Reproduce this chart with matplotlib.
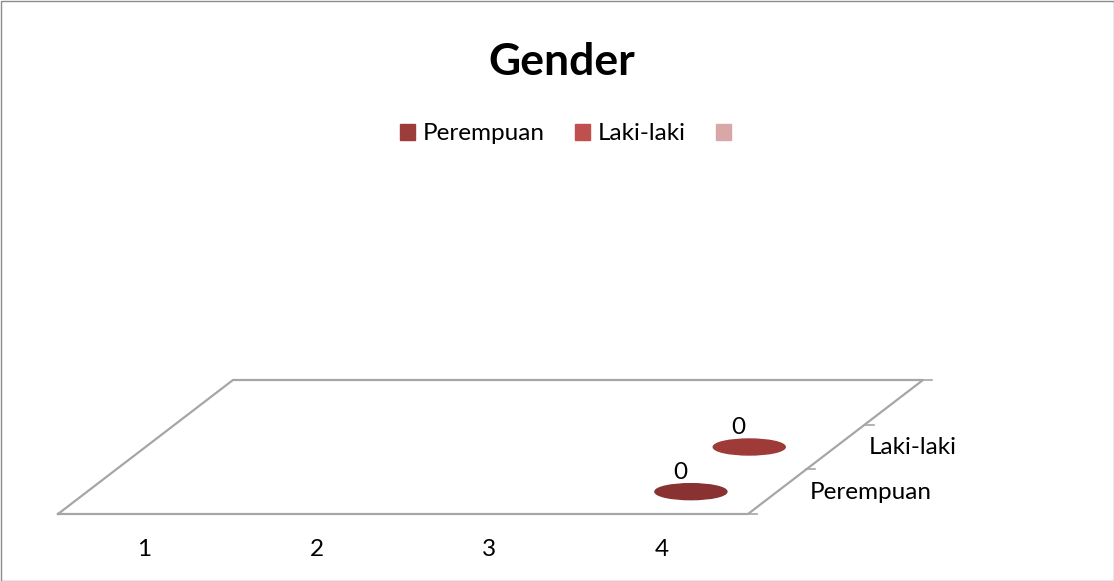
import matplotlib.pyplot as plt
import numpy as np
from matplotlib.patches import Ellipse, Patch
from matplotlib.transforms import Affine2D

plt.rcParams['font.family'] = ['Lato', 'DejaVu Sans']

# chart data
categories = ['1', '2', '3', '4']
series = ['Perempuan', 'Laki-laki', '']
perempuan = [np.nan, np.nan, np.nan, 0]
laki_laki = [np.nan, np.nan, np.nan, 0]
values = [perempuan, laki_laki]
colors = ['#9C3C3B', '#C0504D', '#D9A7A6']
bar_colors = ['#8A3232', '#9E3A38']

fig = plt.figure(figsize=(11.14, 5.81), dpi=100)
ax = fig.add_axes([0, 0, 1, 1])
ax.set_xlim(0, 1114)
ax.set_ylim(581, 0)
ax.axis('off')

# oblique projection of the floor: (category, depth slot) -> pixel coords
x0, y0 = 58, 514
cat_w = 172.5
dep_dx, dep_dy = 175 / 3, -134 / 3
proj = Affine2D(np.array([[cat_w, dep_dx, x0],
                          [0, dep_dy, y0],
                          [0, 0, 1]]))
tr = proj + ax.transData
ncat = len(categories)
ndep = len(series)
fs = 17.5

gray = '#A6A6A6'
ax.plot([0, ncat, ncat, 0, 0], [0, 0, ndep, ndep, 0], color=gray, lw=1.6,
        transform=tr, solid_joinstyle='miter')
# depth ticks on right edge
for d in range(ndep + 1):
    px, py = proj.transform((ncat, d))
    ax.plot([px, px + 9], [py, py], color=gray, lw=1.2)

# category labels
for i, c in enumerate(categories):
    px, py = proj.transform((i + 0.5, 0))
    ax.text(px, py + 36, c, ha='center', va='center', fontsize=fs)

# series labels on depth axis
for d, s in enumerate(series):
    px, py = proj.transform((ncat, d + 0.5))
    ax.text(px + 33, py + 1, s, ha='left', va='center', fontsize=fs)

# zero-height columns drawn as flat ellipses
for d, vals in enumerate(values):
    for i, v in enumerate(vals):
        if np.isnan(v):
            continue
        px, py = proj.transform((i + 0.5, d + 0.5))
        ax.add_patch(Ellipse((px, py - v), 72, 16, color=bar_colors[d]))
        ax.text(px - 11, py - 9 - v, f'{v:g}', ha='center', va='bottom', fontsize=fs)

fig.text(0.504, 1 - 62 / 581, 'Gender', ha='center', va='center',
         fontsize=32, fontweight='bold')

handles = [Patch(color=c) for c in colors]
fig.legend(handles, series, loc='center left', bbox_to_anchor=(400 / 1114, 1 - 134 / 581),
           ncol=3, frameon=False, fontsize=fs, handlelength=0.6, handleheight=0.6,
           handletextpad=0.33, columnspacing=1.25, borderpad=0, borderaxespad=0)

ax.add_patch(plt.Rectangle((0.5, 0.5), 1113, 580, fill=False, ec='#8C8C8C', lw=1))

fig.savefig('out.png', dpi=100)
